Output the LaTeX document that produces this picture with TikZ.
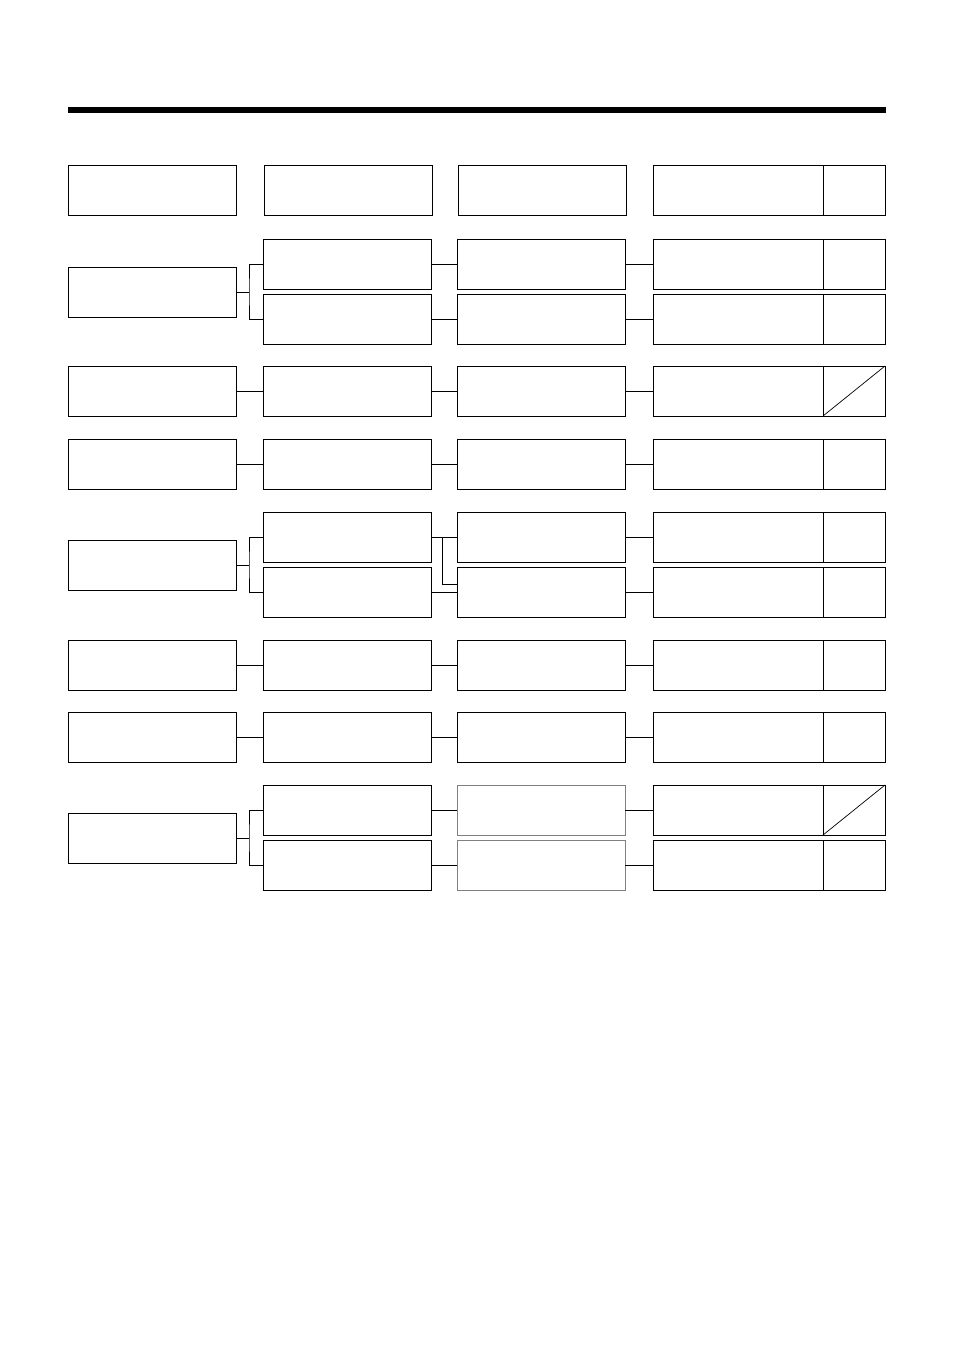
\documentclass[tikz,border=0pt]{standalone}
\usetikzlibrary{calc}
\tikzset{
  cell/.style={draw,line width=0.9pt,inner sep=0pt,outer sep=0pt,minimum height=50pt},
  wide/.style={cell,minimum width=168pt},
  wider/.style={cell,minimum width=170pt},
  tick/.style={cell,minimum width=62pt,anchor=west},
  faint/.style={draw=black!50},
  link/.style={line width=0.9pt}
}
\begin{document}
\begin{tikzpicture}[x=1pt,y=-1pt]
\useasboundingbox (0,0) rectangle (954,1351);
\draw [line width=6pt] (68,110) -- (886,110);

% header row
\node (h1) [wide] at (152,190) {};
\node (h2) [wide] at (348,190) {};
\node (h3) [wide] at (542,190) {};
\node (h4) [wider] at (738,190) {};
\node (h5) [tick] at (h4.east) {};

% single rows
\foreach \n/\y in {c/391,d/464,f/665,g/737}
{
  \node (\n1) [wide] at (152,\y) {};
  \node (\n2) [wide] at (347,\y) {};
  \node (\n3) [wide] at (541,\y) {};
  \node (\n4) [wider] at (738,\y) {};
  \node (\n5) [tick] at (\n4.east) {};
  \draw [link] (\n1) -- (\n2) (\n2) -- (\n3) (\n3) -- (\n4);
}
\draw [line width=0.7pt] (c5.south west) -- (c5.north east);

% split rows
\foreach \n/\y in {a/264,e/537,k/810}
{
  \node (\n1) [wide] at (152,\y+28) {};
  \node (\n2u) [wide] at (347,\y) {};
  \node (\n2l) [wide] at (347,\y+55) {};
  \node (\n4u) [wider] at (738,\y) {};
  \node (\n4l) [wider] at (738,\y+55) {};
  \node (\n5u) [tick] at (\n4u.east) {};
  \node (\n5l) [tick] at (\n4l.east) {};
  \coordinate (\n j) at ($(\n1.east)+(13,0)$);
  \draw [link] (\n1.east) -- (\n j)
    (\n2u.west) -| (\n j) |- (\n2l.west);
}
\foreach \n/\y in {a/264,e/537}
{
  \node (\n3u) [wide] at (541,\y) {};
  \node (\n3l) [wide] at (541,\y+55) {};
}
\node (k3u) [wide,faint] at (541,810) {};
\node (k3l) [wide,faint] at (541,865) {};
\foreach \n in {a,e,k}
  \draw [link] (\n2u) -- (\n3u) (\n3u) -- (\n4u)
               (\n2l) -- (\n3l) (\n3l) -- (\n4l);
\coordinate (ej) at ($(e2u.east)+(11,0)$);
\draw [link] (ej) |- ($(e3l.west)+(0,-8)$);
\draw [line width=0.7pt] (k5u.south west) -- (k5u.north east);
\end{tikzpicture}
\end{document}
